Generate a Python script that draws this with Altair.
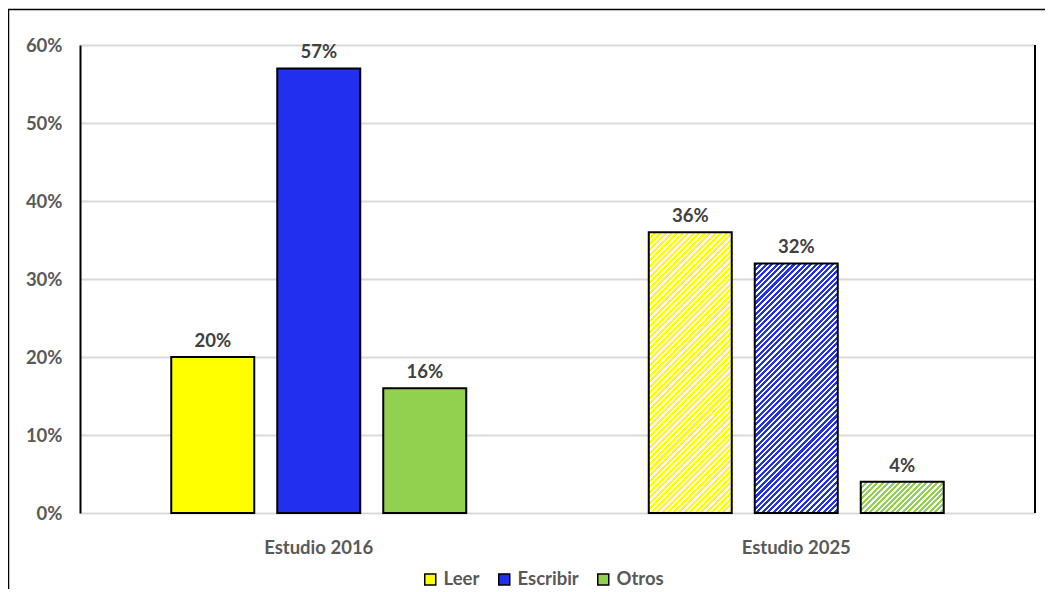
import altair as alt
import pandas as pd

studies = ["Estudio 2016", "Estudio 2025"]
activities = ["Leer", "Escribir", "Otros"]
values_2016 = [0.20, 0.57, 0.16]
values_2025 = [0.36, 0.32, 0.04]
colors = ["#FFFF00", "#2130EE", "#92D050"]
y_ticks = [0, 0.1, 0.2, 0.3, 0.4, 0.5, 0.6]

rows = []
for s, vals in zip(studies, [values_2016, values_2025]):
    for a, v in zip(activities, vals):
        rows.append({"estudio": s, "actividad": a, "valor": v})
df = pd.DataFrame(rows)

W, H = 955, 468
YMAX = 0.6
FONT = "Lato"
FS = 18.5
BAR_W = 83.0


def stripes(color, value, period=5.5, frac=0.55):
    w = BAR_W
    h = max(value / YMAX * H, 1.0)
    n = max(int(round((w + h) / period)), 1)
    a = w * (w + h) / (w * w + h * h)
    b = h * (w + h) / (w * w + h * h)
    stops = []
    for k in range(n):
        o0 = k / n
        o1 = (k + frac) / n
        o2 = (k + 1) / n
        stops += [
            {"offset": o0, "color": color},
            {"offset": o1, "color": color},
            {"offset": o1, "color": "#FFFFFF"},
            {"offset": o2, "color": "#FFFFFF"},
        ]
    return {"gradient": "linear", "x1": 0, "y1": 0, "x2": a, "y2": b, "stops": stops}


base = alt.Chart(df).encode(
    x=alt.X(
        "estudio:N",
        scale=alt.Scale(domain=studies, paddingInner=0, paddingOuter=0),
        axis=alt.Axis(
            title="",
            labelAngle=0,
            labelFont=FONT,
            labelFontSize=FS,
            labelFontWeight="bold",
            labelColor="#595959",
            labelPadding=25,
            domain=False,
            ticks=False,
            grid=False,
        ),
    ),
    xOffset=alt.XOffset(
        "actividad:N",
        scale=alt.Scale(domain=activities, paddingInner=0.217, paddingOuter=0.861),
    ),
    y=alt.Y(
        "valor:Q",
        scale=alt.Scale(domain=[0, YMAX], nice=False),
        axis=alt.Axis(
            title="",
            values=y_ticks,
            format=".0%",
            labelFont=FONT,
            labelFontSize=FS,
            labelFontWeight="bold",
            labelColor="#595959",
            labelPadding=18,
            domainColor="#000000",
            domainWidth=2,
            ticks=False,
            gridColor="#D9D9D9",
            gridWidth=2,
        ),
    ),
)

frame = alt.Chart(pd.DataFrame({"k": [0]})).mark_rect(
    fill="transparent", stroke="#000000", strokeWidth=1.5
).encode(
    x=alt.value(-71.5), x2=alt.value(3000), y=alt.value(-35.5), y2=alt.value(3000)
)

bars_2016 = base.transform_filter(alt.datum.estudio == studies[0]).mark_bar(
    stroke="#000000", strokeWidth=2
).encode(
    color=alt.Color(
        "actividad:N",
        scale=alt.Scale(domain=activities, range=colors),
        legend=alt.Legend(
            title=None,
            orient="none",
            direction="horizontal",
            legendX=341,
            legendY=525,
            symbolType="square",
            symbolSize=121,
            symbolStrokeColor="#000000",
            symbolStrokeWidth=1.5,
            labelFont=FONT,
            labelFontSize=FS,
            labelFontWeight="bold",
            labelColor="#595959",
            labelOffset=4,
            columnPadding=15,
            padding=0,
        ),
    )
)

layers = [frame, bars_2016]
for act, col, v in zip(activities, colors, values_2025):
    layers.append(
        base.transform_filter(
            (alt.datum.estudio == studies[1]) & (alt.datum.actividad == act)
        ).mark_bar(fill=stripes(col, v), stroke="#000000", strokeWidth=2)
    )

labels = base.mark_text(
    baseline="bottom",
    dy=-6,
    font=FONT,
    fontSize=FS,
    fontWeight="bold",
    color="#404040",
).encode(text=alt.Text("valor:Q", format=".0%"))

right_line = alt.Chart(pd.DataFrame({"k": [0]})).mark_rule(
    color="#000000", strokeWidth=2
).encode(x=alt.value(W), y=alt.value(0), y2=alt.value(H))

layers += [labels, right_line]

chart = alt.layer(*layers).properties(
    width=W,
    height=H,
    autosize=alt.AutoSizeParams(type="none"),
    padding={"left": 72, "top": 37, "right": 10, "bottom": 76},
    background="#FFFFFF",
).configure_view(stroke=None)

chart.save("out.html", embed_options={"renderer": "svg", "actions": False})
